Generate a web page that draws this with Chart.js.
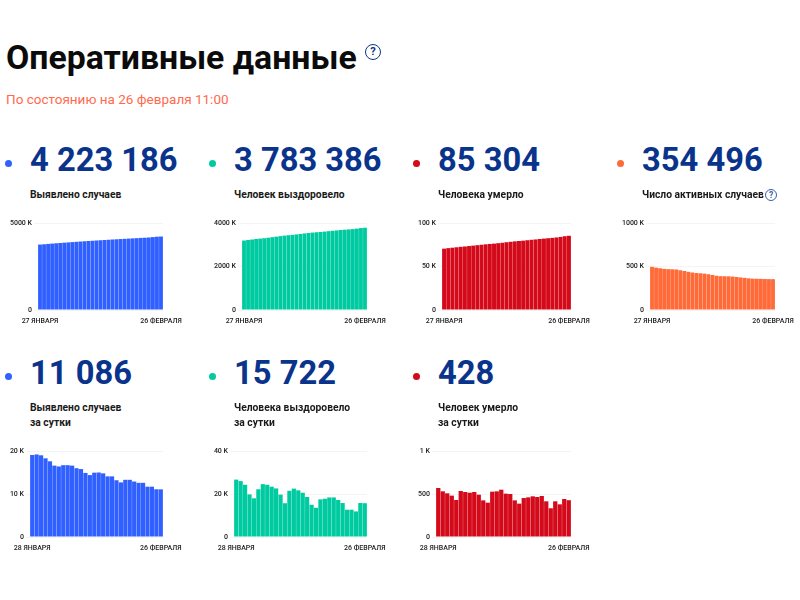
<!DOCTYPE html>
<html lang="ru">
<head>
<meta charset="utf-8">
<title>Оперативные данные</title>
<script src="https://cdn.jsdelivr.net/npm/chart.js@4/dist/chart.umd.min.js"></script>
<style>
    html, body { margin: 0; padding: 0; background: #fff; }
    body { width: 800px; height: 600px; position: relative; overflow: hidden; font-family: Roboto, sans-serif; }
    .abs { position: absolute; white-space: nowrap; }
    h1 { margin: 0; left: 6px; top: 39px; font-size: 33.8px; line-height: 38px; font-weight: 700; color: #0b0b0b; }
    .date { left: 6px; top: 90px; font-size: 13.5px; line-height: 18px; color: #ff6a4d; }
    .num { font-size: 32.7px; line-height: 40px; font-weight: 700; color: #0a348c; }
    .lbl { font-size: 10.3px; line-height: 15px; font-weight: 700; color: #1a1a1a; }
    .dot { width: 7px; height: 7px; border-radius: 50%; }
    .q { border: 1.3px solid #0a348c; border-radius: 50%; color: #0a348c; text-align: center; font-weight: 700; box-sizing: border-box; }
    canvas { position: absolute; }
</style>
</head>
<body>
<h1 class="abs">Оперативные данные</h1>
<div class="abs q" style="left:365px;top:44px;width:16px;height:16px;font-size:11px;line-height:14px">?</div>
<div class="abs date">По состоянию на 26 февраля 11:00</div>
<div class="abs q" style="left:765px;top:189px;width:12px;height:12px;font-size:8.5px;line-height:10px;color:#3a5fa8;border-color:#3a5fa8">?</div>
<script>
const days31 = ["27 ЯНВАРЯ", "28 ЯНВАРЯ", "29 ЯНВАРЯ", "30 ЯНВАРЯ", "31 ЯНВАРЯ",
    "1 ФЕВРАЛЯ", "2 ФЕВРАЛЯ", "3 ФЕВРАЛЯ", "4 ФЕВРАЛЯ", "5 ФЕВРАЛЯ", "6 ФЕВРАЛЯ", "7 ФЕВРАЛЯ",
    "8 ФЕВРАЛЯ", "9 ФЕВРАЛЯ", "10 ФЕВРАЛЯ", "11 ФЕВРАЛЯ", "12 ФЕВРАЛЯ", "13 ФЕВРАЛЯ", "14 ФЕВРАЛЯ",
    "15 ФЕВРАЛЯ", "16 ФЕВРАЛЯ", "17 ФЕВРАЛЯ", "18 ФЕВРАЛЯ", "19 ФЕВРАЛЯ", "20 ФЕВРАЛЯ", "21 ФЕВРАЛЯ",
    "22 ФЕВРАЛЯ", "23 ФЕВРАЛЯ", "24 ФЕВРАЛЯ", "25 ФЕВРАЛЯ", "26 ФЕВРАЛЯ"];
const days30 = days31.slice(1);

// values
const casesTotal = [3760000, 3779000, 3798000, 3817000, 3835000, 3852000, 3869000, 3885000, 3902000, 3918000, 3934000,
    3950000, 3965000, 3979000, 3994000, 4009000, 4024000, 4038000, 4052000, 4065000, 4078000, 4091000, 4104000, 4117000,
    4130000, 4143000, 4155000, 4167000, 4190000, 4212000, 4223186];
const recoveredTotal = [3194000, 3217000, 3241000, 3263000, 3283000, 3301000, 3323000, 3348000, 3372000, 3396000, 3419000,
    3438000, 3454000, 3476000, 3498000, 3520000, 3541000, 3560000, 3575000, 3588000, 3606000, 3624000, 3642000, 3660000,
    3677000, 3693000, 3706000, 3719000, 3741000, 3767000, 3783386];
const deathsTotal = [70500, 71100, 71600, 72100, 72600, 73000, 73500, 74000, 74500, 75000, 75500, 75900, 76300, 76800,
    77300, 77900, 78400, 78900, 79300, 79700, 80200, 80700, 81100, 81600, 82100, 82500, 82900, 83400, 84000, 84800, 85304];
const activeTotal = [496000, 487000, 480000, 473000, 470000, 468000, 466000, 457000, 448000, 439000, 431000, 425000,
    422000, 418000, 411000, 402000, 394000, 389000, 388000, 387000, 384000, 379000, 374000, 369000, 364000, 360000,
    359000, 358000, 356000, 355000, 354496];
const casesDaily = [19070, 19200, 19000, 18300, 17600, 16600, 16400, 16700, 16700, 16600, 16000, 15800, 14900, 14400,
    14960, 15000, 14800, 14100, 14100, 13200, 12700, 13300, 13300, 12900, 12600, 12600, 11700, 11700, 11100, 11086];
const recoveredDaily = [26700, 26000, 24300, 19800, 18000, 22200, 24600, 24300, 23400, 22600, 19700, 15700, 21500, 22500,
    21700, 20600, 18600, 15000, 13600, 17500, 17800, 18400, 18400, 17200, 15800, 12700, 12700, 11900, 15800, 15722];
const deathsDaily = [570, 531, 508, 481, 430, 535, 523, 515, 523, 492, 426, 399, 527, 531, 550, 504, 500, 426, 388, 453,
    461, 473, 465, 477, 415, 334, 415, 380, 442, 428];

const blue = "#3060ff", teal = "#00cba0", red = "#d40a1a", orange = "#ff6a39";

// plot box of every small chart on the page: left, right, top, bottom
const panels = [
    { id: "c1", value: "4 223 186", label: ["Выявлено случаев"], color: blue, labels: days31, data: casesTotal, max: 5000000, step: 5000000, box: [38, 163, 223, 310], textX: 30, row: 0 },
    { id: "c2", value: "3 783 386", label: ["Человек выздоровело"], color: teal, labels: days31, data: recoveredTotal, max: 4000000, step: 2000000, box: [242, 367, 223, 310], textX: 234, row: 0 },
    { id: "c3", value: "85 304", label: ["Человека умерло"], color: red, labels: days31, data: deathsTotal, max: 100000, step: 50000, box: [442, 571, 223, 310], textX: 438, row: 0 },
    { id: "c4", value: "354 496", label: ["Число активных случаев"], color: orange, labels: days31, data: activeTotal, max: 1000000, step: 500000, box: [650, 775, 223, 310], textX: 642, row: 0 },
    { id: "c5", value: "11 086", label: ["Выявлено случаев", "за сутки"], color: blue, labels: days30, data: casesDaily, max: 20000, step: 10000, box: [30, 163, 451, 537], textX: 30, row: 1 },
    { id: "c6", value: "15 722", label: ["Человека выздоровело", "за сутки"], color: teal, labels: days30, data: recoveredDaily, max: 40000, step: 20000, box: [234, 367, 451, 537], textX: 234, row: 1 },
    { id: "c7", value: "428", label: ["Человек умерло", "за сутки"], color: red, labels: days30, data: deathsDaily, max: 1000, step: 500, box: [436, 571, 451, 537], textX: 438, row: 1 }
];

function addText(cls, text, left, top) {
    const el = document.createElement("div");
    el.className = "abs " + cls;
    el.style.left = left + "px";
    el.style.top = top + "px";
    el.textContent = text;
    document.body.appendChild(el);
    return el;
}

function fmt(v) {
    return v >= 1000 ? (v / 1000) + " K" : String(v);
}

const tickFont = { family: "Roboto", size: 7, weight: "500" };
const padX = 40, canvasH = 30;

panels.forEach(p => {
    const [l, r, t, b] = p.box;
    const numTop = p.row === 0 ? 140 : 353;
    const lblTop = p.row === 0 ? 187 : 400;
    addText("num", p.value, p.textX, numTop);
    p.label.forEach((s, i) => addText("lbl", s, p.textX, lblTop + i * 15));
    const dot = addText("dot", "", p.textX - 25, numTop + 20);
    dot.style.background = p.color;

    const cv = document.createElement("canvas");
    cv.id = p.id;
    const yWidth = 38;
    const cssW = (r - l) + yWidth + padX;
    const cssH = (b - t) + canvasH + 10;
    cv.style.left = (l - yWidth) + "px";
    cv.style.top = (t - 10) + "px";
    cv.style.width = cssW + "px";
    cv.style.height = cssH + "px";
    document.body.appendChild(cv);

    new Chart(cv.getContext("2d"), {
        type: "bar",
        data: {
            labels: p.labels,
            datasets: [{ data: p.data, backgroundColor: p.color, barPercentage: 0.95, categoryPercentage: 1 }]
        },
        options: {
            responsive: false,
            animation: false,
            devicePixelRatio: 1,
            layout: { padding: { top: 10, right: padX, left: 0, bottom: 0 } },
            plugins: { legend: { display: false }, tooltip: { enabled: false } },
            scales: {
                x: {
                    grid: { display: false, drawTicks: false },
                    border: { display: false },
                    afterFit: s => { s.height = canvasH; },
                    ticks: {
                        autoSkip: false,
                        maxRotation: 0,
                        minRotation: 0,
                        padding: 7,
                        color: "#222",
                        font: tickFont,
                        callback: function (v, i, all) {
                            return i === 0 || i === all.length - 1 ? this.getLabelForValue(v) : "";
                        }
                    }
                },
                y: {
                    min: 0,
                    max: p.max,
                    afterFit: s => { s.width = yWidth; },
                    border: { display: false },
                    grid: { color: "#f4f4f4", tickLength: 4 },
                    ticks: { stepSize: p.step, padding: 2, color: "#222", font: tickFont, callback: fmt }
                }
            }
        }
    });
});
</script>
</body>
</html>
